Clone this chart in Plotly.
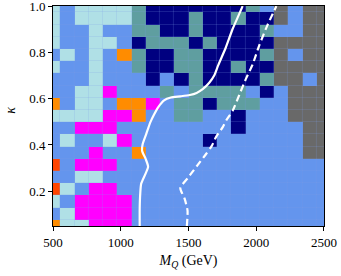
import plotly.graph_objects as go

# grid coordinates
mq_values = [500, 605, 711, 816, 921, 1026, 1132, 1237, 1342, 1447,
             1553, 1658, 1763, 1868, 1974, 2079, 2184, 2289, 2395, 2500]
kappa_values = [0.05, 0.103, 0.156, 0.208, 0.261, 0.314, 0.367, 0.419, 0.472,
                0.525, 0.578, 0.631, 0.683, 0.736, 0.789, 0.842, 0.894, 0.947, 1.0]

# category codes per kappa row (bottom -> top), one char per M_Q column
# B=cornflowerblue L=powderblue T=cadetblue N=navy O=darkorange R=orangered M=magenta G=dimgray
grid_rows = [
    "OLLMMMBBBBBBBBBBBBBB",
    "BLMMMMBBBBBBBBBBBBBB",
    "LBMMMMBBBBBBBBBBBBBB",
    "RLBMMBBBBBBBBBBBBBBB",
    "BBLLBBBBBBBBBBBBBBBB",
    "RBMMMBBBBBBBBBBBBBBB",
    "BBBMBBOBBBBBBBBBBBGG",
    "BLBBLMBBBBBNBBBBBBGG",
    "BBMMMBBBBBBBBNBBBBGG",
    "LLLLMMOBBTTBBNBBBGGG",
    "OBLLBOOMBTTNTTTBBGGG",
    "BBLLMBBBTBTTTTBNBGGG",
    "BBBLBBBNBNTNNNNTGGBG",
    "LBBLBBTNNTTNNTNNGGGG",
    "BLBLBOTNNTTNNNNTGBGG",
    "LBBLLBNTTTNTNNNNGGGG",
    "LBBLBBTTNNTNNNNTBBGG",
    "LBLLLLTNNNTNNTNNGBGG",
    "LBLLLLTNNNNNNNTBGBGG",
]
category_codes = ["B", "L", "T", "N", "O", "R", "M", "G"]
category_colors = ["#6495ED", "#B0E0E6", "#5F9EA0", "#000080",
                   "#FF8C00", "#FF4500", "#FF00FF", "#696969"]

# white boundary curves
solid_mq = [1140, 1140, 1144, 1151, 1180, 1202, 1184, 1158, 1162, 1188, 1219, 1247,
            1276, 1320, 1370, 1440, 1510, 1560, 1605, 1655, 1690, 1720, 1775, 1825,
            1870, 1900]
solid_kappa = [0.05, 0.126, 0.190, 0.233, 0.272, 0.306, 0.340, 0.374, 0.404, 0.447,
               0.499, 0.533, 0.563, 0.593, 0.605, 0.610, 0.616, 0.625, 0.641, 0.670,
               0.700, 0.745, 0.820, 0.900, 0.960, 1.0]
dash_mq = [1488, 1493, 1471, 1440, 1495, 1563, 1630, 1672, 1703, 1753, 1784, 1828,
           1876, 1928, 1973, 2024, 2084, 2149]
dash_kappa = [0.05, 0.117, 0.169, 0.214, 0.257, 0.310, 0.361, 0.396, 0.434, 0.477,
              0.511, 0.550, 0.618, 0.691, 0.747, 0.833, 0.919, 1.0]

x_ticks = [500, 1000, 1500, 2000, 2500]
y_ticks = [0.2, 0.4, 0.6, 0.8, 1.0]

z = [[category_codes.index(ch) for ch in row] for row in grid_rows]
n = len(category_colors)
colorscale = []
for i, c in enumerate(category_colors):
    colorscale.append([i / n, c])
    colorscale.append([(i + 1) / n, c])

fig = go.Figure()
fig.add_trace(go.Heatmap(
    x=mq_values, y=kappa_values, z=z,
    zmin=-0.5, zmax=n - 0.5, colorscale=colorscale, showscale=False,
    xgap=0.2, ygap=0.2, hoverinfo="skip",
))
fig.add_trace(go.Scatter(
    x=solid_mq, y=solid_kappa, mode="lines",
    line=dict(color="white", width=2.2, shape="spline", smoothing=0.6),
    showlegend=False, hoverinfo="skip",
))
fig.add_trace(go.Scatter(
    x=dash_mq, y=dash_kappa, mode="lines",
    line=dict(color="white", width=2.2, dash="7px,4px", shape="spline", smoothing=0.6),
    showlegend=False, hoverinfo="skip",
))

family = "Liberation Serif, DejaVu Serif, serif"
font = dict(family=family, size=13, color="black")
fig.update_layout(
    width=341, height=276,
    margin=dict(l=53, r=17, t=6, b=50, autoexpand=False),
    paper_bgcolor="white", plot_bgcolor="#7E9FE6",
    font=font, showlegend=False,
)
fig.update_xaxes(
    range=[500, 2500.5], tickvals=x_ticks, ticktext=[str(v) for v in x_ticks],
    ticks="outside", ticklen=4, tickwidth=1, tickcolor="black",
    showline=True, linecolor="black", linewidth=1, mirror=True,
    showgrid=False, zeroline=False, automargin=False, ticklabeloverflow="allow",
    title=dict(text="<i>M</i><sub><i>Q</i></sub> (GeV)", standoff=6,
               font=dict(family=family, size=14, color="black")),
)
fig.update_yaxes(
    range=[0.05, 1.0005], tickvals=y_ticks, ticktext=[f"{v:.1f}" for v in y_ticks],
    ticks="outside", ticklen=4, tickwidth=1, tickcolor="black",
    showline=True, linecolor="black", linewidth=1, mirror=True,
    showgrid=False, zeroline=False, automargin=False, ticklabeloverflow="allow",
)
fig.add_annotation(
    text="<i>κ</i>", xref="paper", yref="paper", x=0, y=0.524,
    xanchor="center", yanchor="middle", xshift=-42, textangle=-90,
    showarrow=False, font=dict(family=family, size=14, color="black"),
)
fig.write_html("out.html", config={"displayModeBar": False},
               post_script="document.body.style.margin='0px';")
